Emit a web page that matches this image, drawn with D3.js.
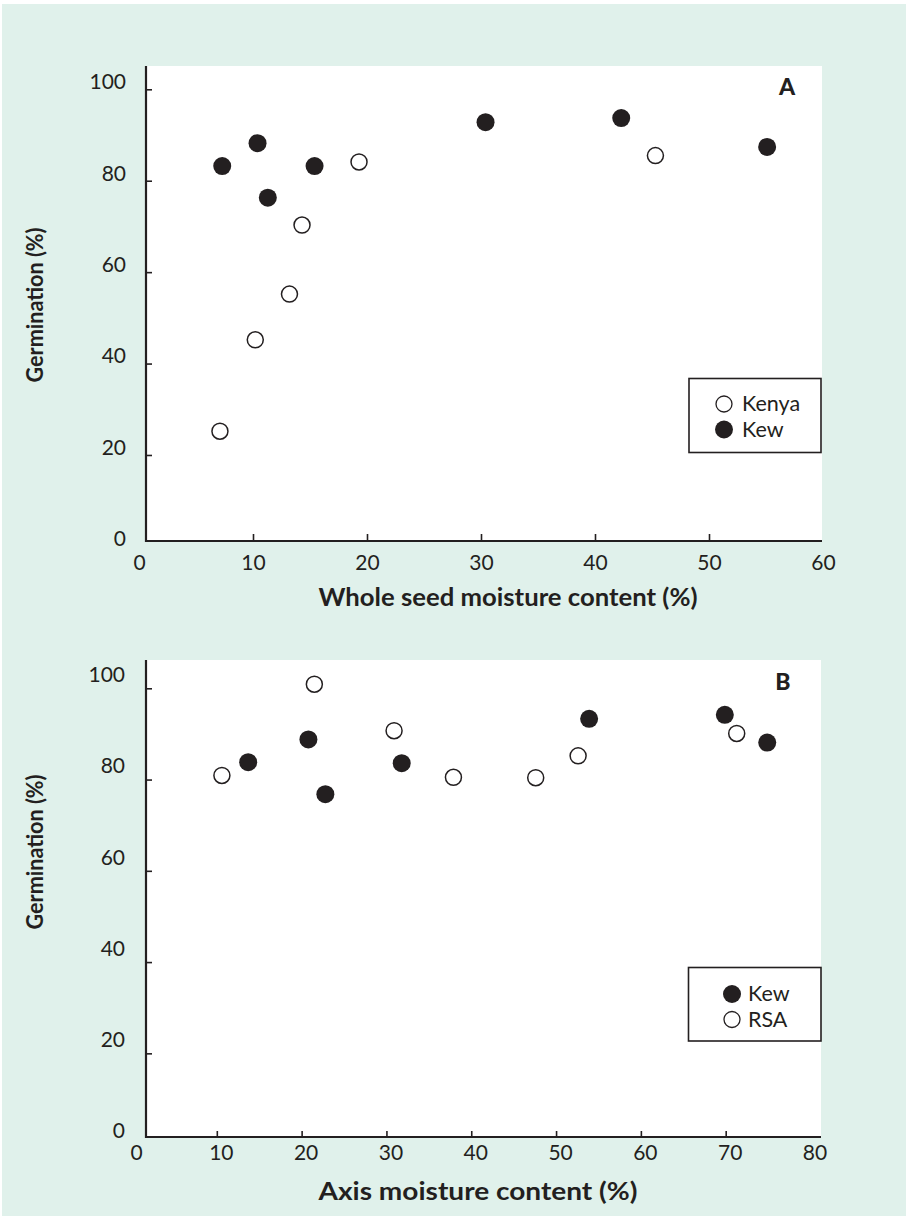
<!DOCTYPE html>
<html>
<head>
<meta charset="utf-8">
<script src="https://cdn.jsdelivr.net/npm/d3@7"></script>
<style>
  html, body { margin: 0; padding: 0; background: #ffffff; }
  svg { display: block; }
  text { font-family: Lato, "Open Sans", sans-serif; fill: #231f20; }
</style>
</head>
<body>
<svg id="chart" width="908" height="1220"></svg>
<script>
// ---------- Data ----------
// Panel A: whole seed moisture content (%) vs germination (%)
const kenyaA_x = [7.1, 10.2, 13.2, 14.3, 19.3, 45.3];
const kenyaA_y = [25.2, 45.2, 55.2, 70.3, 84.1, 85.5];
const kewA_x   = [7.3, 10.4, 11.3, 15.4, 30.4, 42.3, 55.1];
const kewA_y   = [83.2, 88.2, 76.3, 83.2, 92.8, 93.7, 87.4];

// Panel B: axis moisture content (%) vs germination (%)
const kewB_x = [13.7, 20.8, 22.8, 31.8, 53.9, 69.9, 74.9];
const kewB_y = [83.8, 88.8, 76.8, 83.6, 93.3, 94.2, 88.1];
const rsaB_x = [10.6, 21.5, 30.9, 37.9, 47.6, 52.6, 71.3];
const rsaB_y = [80.9, 100.9, 90.7, 80.5, 80.4, 85.2, 90.1];

// Tick labels
const yTickLabels = [0, 20, 40, 60, 80, 100];
const xTickLabelsA = [0, 10, 20, 30, 40, 50, 60];
const xTickLabelsB = [0, 10, 20, 30, 40, 50, 60, 70, 80];

const yTitle = "Germination (%)";
const xTitleA = "Whole seed moisture content (%)";
const xTitleB = "Axis moisture content (%)";
const legendA = [{name: "Kenya", filled: false}, {name: "Kew", filled: true}];
const legendB = [{name: "Kew", filled: true}, {name: "RSA", filled: false}];

// ---------- Drawing ----------
const INK = "#231f20";
const BG = "#e0f1eb";
const svg = d3.select("#chart");

svg.append("rect").attr("x", 2).attr("y", 4).attr("width", 904).attr("height", 1212).attr("fill", BG);

function zip(xs, ys) { return xs.map((x, i) => ({x: x, y: ys[i]})); }

function panel(cfg) {
  const g = svg.append("g");
  const x = d3.scaleLinear().domain(cfg.xDomain).range(cfg.xRange);
  const y = d3.scaleLinear().domain([0, 100]).range(cfg.yRange);
  const P = cfg.plot;

  // white plotting area
  g.append("rect").attr("x", P.left).attr("y", P.top)
    .attr("width", P.right - P.left).attr("height", P.bottom - P.top).attr("fill", "#ffffff");

  // x tick marks (inward)
  const xAxisTicks = d3.axisBottom(x).tickValues(cfg.xTickMarks).tickSize(-cfg.xTickLen).tickFormat("");
  const gx = g.append("g").attr("transform", `translate(0,${P.bottom})`).call(xAxisTicks);
  gx.select(".domain").remove();
  gx.selectAll("line").attr("stroke", INK).attr("stroke-width", 1.6);

  // x tick labels
  const xAxisLabels = d3.axisBottom(x).tickValues(cfg.xLabels).tickSize(0).tickPadding(0).tickFormat(d3.format("d"));
  const gxl = g.append("g").attr("transform", `translate(${cfg.xLabelDx},${cfg.xLabelY})`).call(xAxisLabels);
  gxl.select(".domain").remove();
  gxl.selectAll("text").attr("font-size", 21).attr("font-family", "Lato, sans-serif")
     .attr("fill", INK).attr("dy", 0).attr("dominant-baseline", "alphabetic");

  // y tick marks (inward)
  const yAxisTicks = d3.axisLeft(y).tickValues([20, 40, 60, 80, 100]).tickSize(-6).tickFormat("");
  const gy = g.append("g").attr("transform", `translate(${P.left},0)`).call(yAxisTicks);
  gy.select(".domain").remove();
  gy.selectAll("line").attr("stroke", INK).attr("stroke-width", 1.6);

  // y tick labels
  const yAxisLabels = d3.axisLeft(y).tickValues(yTickLabels).tickSize(0).tickPadding(0).tickFormat(d3.format("d"));
  const gyl = g.append("g").attr("transform", `translate(${cfg.yLabelX},${cfg.yLabelDy})`).call(yAxisLabels);
  gyl.select(".domain").remove();
  gyl.selectAll("text").attr("font-size", 21).attr("font-family", "Lato, sans-serif")
     .attr("fill", INK).attr("dy", "0.35em");

  // axis lines
  g.append("line").attr("x1", P.left).attr("x2", P.right).attr("y1", P.bottom).attr("y2", P.bottom)
    .attr("stroke", INK).attr("stroke-width", 2.2);
  g.append("line").attr("x1", P.left).attr("x2", P.left).attr("y1", P.top).attr("y2", P.bottom + 1)
    .attr("stroke", INK).attr("stroke-width", 2.2);

  // series
  cfg.series.forEach(s => {
    g.append("g").selectAll("circle").data(s.data).join("circle")
      .attr("cx", d => x(d.x)).attr("cy", d => y(d.y))
      .attr("r", s.filled ? 9 : 8)
      .attr("fill", s.filled ? INK : "#ffffff")
      .attr("stroke", s.filled ? "none" : INK)
      .attr("stroke-width", 1.5);
  });

  // panel letter
  g.append("text").attr("x", cfg.letterPos[0]).attr("y", cfg.letterPos[1])
    .attr("text-anchor", "middle").attr("font-size", 23).attr("font-weight", 900).text(cfg.letter);

  // titles
  g.append("text").attr("x", cfg.xTitlePos[0]).attr("y", cfg.xTitlePos[1])
    .attr("text-anchor", "middle").attr("font-size", 24).attr("font-weight", 700)
    .attr("textLength", cfg.xTitleLen).attr("lengthAdjust", "spacingAndGlyphs").text(cfg.xTitle);
  g.append("text").attr("transform", `translate(${cfg.yTitlePos[0]},${cfg.yTitlePos[1]}) rotate(-90)`)
    .attr("text-anchor", "middle").attr("font-size", 23).attr("font-weight", 700)
    .attr("textLength", 155).attr("lengthAdjust", "spacingAndGlyphs").text(yTitle);

  // legend
  const L = cfg.legend;
  g.append("rect").attr("x", L.x).attr("y", L.y).attr("width", L.w).attr("height", L.h)
    .attr("fill", "#ffffff").attr("stroke", INK).attr("stroke-width", 1.6);
  L.items.forEach((it, i) => {
    const cy = L.firstY + i * 25.5;
    g.append("circle").attr("cx", L.symX).attr("cy", cy).attr("r", it.filled ? 9 : 8)
      .attr("fill", it.filled ? INK : "#ffffff").attr("stroke", it.filled ? "none" : INK).attr("stroke-width", 1.3);
    g.append("text").attr("x", L.textX).attr("y", cy + 7).attr("font-size", 21.5).text(it.name);
  });
}

panel({
  xDomain: [0, 60], xRange: [139, 823], yRange: [546.4, 89.3],
  plot: {left: 146, right: 822, top: 66, bottom: 541},
  xTickMarks: [10, 20, 30, 40, 50], xTickLen: 7,
  xLabels: xTickLabelsA, xLabelY: 570, xLabelDx: 0,
  yLabelX: 126, yLabelDy: -8,
  series: [
    {data: zip(kenyaA_x, kenyaA_y), filled: false},
    {data: zip(kewA_x, kewA_y), filled: true}
  ],
  letter: "A", letterPos: [787, 94.5],
  xTitle: xTitleA, xTitlePos: [508, 605.5], xTitleLen: 379,
  yTitlePos: [43, 305],
  legend: {x: 689, y: 378.5, w: 132, h: 74, symX: 724, firstY: 404, textX: 742, items: legendA}
});

panel({
  xDomain: [0, 80], xRange: [132, 810.5], yRange: [1144.6, 688.3],
  plot: {left: 146, right: 821, top: 660, bottom: 1137},
  xTickMarks: [10, 20, 30, 40, 50, 60, 70], xTickLen: 6,
  xLabels: xTickLabelsB, xLabelY: 1160, xLabelDx: 4,
  yLabelX: 125, yLabelDy: -14,
  series: [
    {data: zip(rsaB_x, rsaB_y), filled: false},
    {data: zip(kewB_x, kewB_y), filled: true}
  ],
  letter: "B", letterPos: [783, 690],
  xTitle: xTitleB, xTitlePos: [478, 1199.5], xTitleLen: 319,
  yTitlePos: [43, 852],
  legend: {x: 688.5, y: 967.5, w: 132.5, h: 73.5, symX: 732, firstY: 994, textX: 748, items: legendB}
});
</script>
</body>
</html>
